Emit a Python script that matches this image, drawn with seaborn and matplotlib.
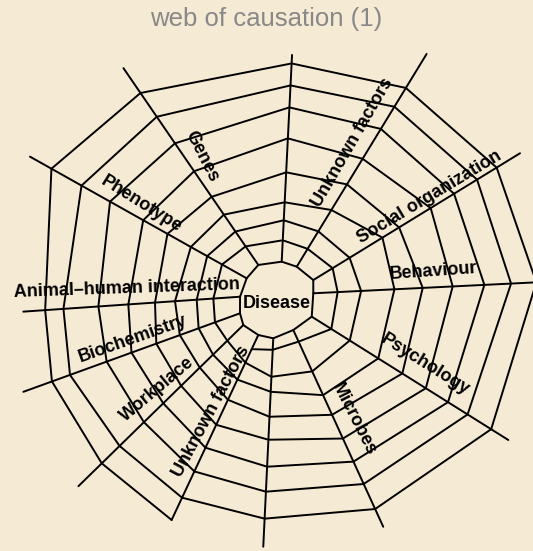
import numpy as np
import pandas as pd
import matplotlib
matplotlib.use("Agg")
import matplotlib.pyplot as plt
import seaborn as sns

# ---------------- data ----------------
TITLE = "web of causation (1)"
CENTER_LABEL = "Disease"

# spokes, clockwise, starting at the lower-left "Workplace" spoke
spokes = ["Workplace", "Biochemistry", "Animal–human interaction", "Phenotype",
          "Genes", "(top)", "Unknown factors", "Social organization",
          "Behaviour", "Psychology", "Microbes", "(bottom)", "Unknown factors"]
# polar geometry of each spoke (degrees, radius from the hub centre)
hub_angle = [-144.5, -161.6, 173.4, 143.2, 117.4, 83.2, 60.1, 30.0, 12.0,
             -24.3, -60.7, -95.7, -118.8]
hub_radius = [41.4, 39.0, 37.2, 37.9, 40.6, 39.6, 39.6, 41.9, 37.1,
              38.1, 33.3, 37.5, 38.8]
end_angle = [-137.0, -160.3, -177.6, 149.7, 123.4, 86.5, 58.8, 31.3, 4.1,
             -31.0, -64.8, -93.2, -115.7]
end_radius = [271.5, 269.4, 253.9, 286.1, 278.9, 246.5, 288.8, 284.4, 263.7,
              269.9, 249.5, 246.1, 243.0]

# radius at which each thread of the web crosses each spoke (inner -> outer)
ring_workplace = [63.6, 83.5, 102, 128, 153, 180, 214, 238.9]
ring_biochemistry = [65.6, 83, 103, 128, 154.4, 180.8, 219.8, 239]
ring_animal = [63.7, 80.3, 102, 122, 148.7, 178.7, 213.7, 232]
ring_phenotype = [66, 83, 101.7, 128.5, 156.3, 194.3, 227, 261.5]
ring_genes = [63, 81, 101.4, 123, 154, 187.8, 220, 248.8]
ring_top = [61, 81, 99, 129, 163, 194, 216, 238]
ring_unknown_upper = [60.5, 81, 106, 136, 166, 201, 227, 249]
ring_social = [64.6, 84.5, 123, 142.6, 179.6, 207, 234, 257]
ring_behaviour = [61.3, 84.7, 118, 146.3, 176.3, 208, 234.7, 260]
ring_psychology = [61.1, 82.8, 116.4, 144.8, 172.5, 198.7, 221.8, 249.6]
ring_microbes = [46, 78.7, 104.8, 126.4, 152.5, 177.9, 202.5, 230]
ring_bottom = [49, 76, 91, 116, 139, 166, 191, 218]
ring_unknown_lower = [54.4, 69.3, 88, 110.3, 137.9, 163.2, 189.4, 218.4, 243]

ring_table = [ring_workplace, ring_biochemistry, ring_animal, ring_phenotype,
              ring_genes, ring_top, ring_unknown_upper, ring_social,
              ring_behaviour, ring_psychology, ring_microbes, ring_bottom,
              ring_unknown_lower]

# ---------------- layout ----------------
CX, CY = 277, 301          # hub centre in picture pixels
W, H = 533, 551
BG = "#F5EAD3"
LW = 1.4
FONT = "Liberation Sans"

# label placement: (dx, dy) from hub centre, rotation
label_layout = [
    ("Animal–human interaction", -150, 12, 2),
    ("Biochemistry", -144, -38, 19.5),
    ("Workplace", -120, -88, 40),
    ("Unknown factors", -66, -110, 62),
    ("Microbes", 77, -118, -63),
    ("Psychology", 148, -64, -32),
    ("Behaviour", 156, 30, 4),
    ("Social organization", 152, 104, 31),
    ("Unknown factors", 75.5, 158.5, 60),
    ("Genes", -75, 145, -63),
    ("Phenotype", -136, 97, -32),
]


def polar(r, a_deg):
    a = np.deg2rad(a_deg)
    return np.array([r * np.cos(a), r * np.sin(a)])


def spoke_point(i, r):
    h = polar(hub_radius[i], hub_angle[i])
    e = polar(end_radius[i], end_angle[i])
    d = e - h
    A = d @ d
    B = h @ d
    C = h @ h - r * r
    t = (-B + np.sqrt(max(B * B - A * C, 0))) / A
    return h + t * d


# spokes dataframe
rows = []
for i, name in enumerate(spokes):
    for p in (polar(hub_radius[i], hub_angle[i]), polar(end_radius[i], end_angle[i])):
        rows.append({"x": p[0], "y": p[1], "spoke": i})
spoke_df = pd.DataFrame(rows)

# hub polygon
rows = []
for i in list(range(len(spokes))) + [0]:
    p = polar(hub_radius[i], hub_angle[i])
    rows.append({"x": p[0], "y": p[1], "unit": 0})
hub_df = pd.DataFrame(rows)

# threads: each one runs from the last spoke (shifted one turn) around the web
n = len(spokes)
rows = []
for k in range(len(ring_workplace)):
    pts = [spoke_point(n - 1, ring_table[n - 1][k + 1])]
    for i in range(n):
        pts.append(spoke_point(i, ring_table[i][k]))
    for p in pts:
        rows.append({"x": p[0], "y": p[1], "ring": k})
ring_df = pd.DataFrame(rows)

# ---------------- drawing ----------------
sns.set_theme(style="white")
plt.rcParams["font.family"] = [FONT, "DejaVu Sans"]

fig = plt.figure(figsize=(W / 100, H / 100), dpi=100, facecolor=BG)
ax = fig.add_axes([0, 0, 1, 1])
ax.set_facecolor(BG)

common = dict(estimator=None, sort=False, color="black", linewidth=LW,
              legend=False, ax=ax)
sns.lineplot(data=spoke_df, x="x", y="y", units="spoke", **common)
sns.lineplot(data=ring_df, x="x", y="y", units="ring", **common)
sns.lineplot(data=hub_df, x="x", y="y", units="unit", **common)

ax.set_xlim(-CX, W - CX)
ax.set_ylim(-(H - CY), CY)
ax.set_axis_off()

for text, dx, dy, rot in label_layout:
    ax.text(dx, dy, text, ha="center", va="center", rotation=rot,
            rotation_mode="anchor", fontsize=13, fontweight="bold",
            color="black", family=[FONT, "DejaVu Sans"])
ax.text(0, -3, CENTER_LABEL, ha="center", va="center", fontsize=13,
        fontweight="bold", color="black", family=[FONT, "DejaVu Sans"])

fig.text(0.5, 1 - 26 / H, TITLE, ha="center", va="baseline", fontsize=18.5,
         color="#888888", family=[FONT, "DejaVu Sans"])

fig.savefig("out.png", dpi=100, facecolor=BG)
